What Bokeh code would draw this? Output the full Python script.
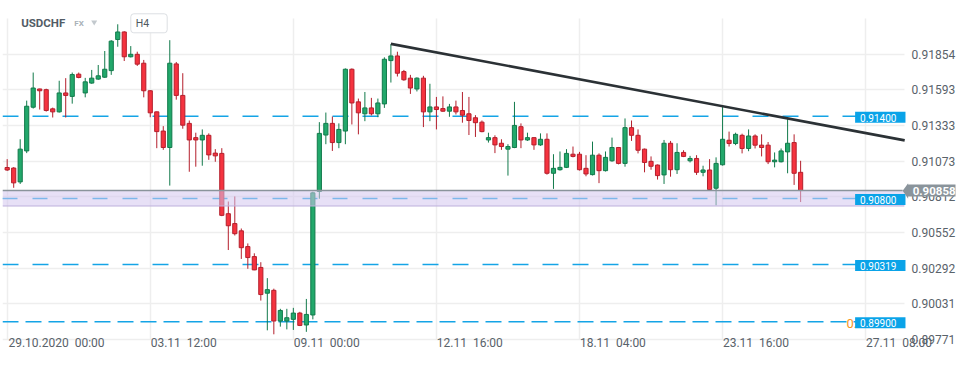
from bokeh.plotting import figure
from bokeh.models import (ColumnDataSource, Range1d, FixedTicker, PrintfTickFormatter,
                          CustomJSTickFormatter, Label, PolyAnnotation)
from bokeh.embed import file_html
from bokeh.resources import INLINE

# ---------------- data ----------------
symbol = "USDCHF"
market = "FX"
timeframe = "H4"

opens = [0.91026, 0.91022, 0.90921, 0.91147, 0.91466, 0.91599, 0.91594, 0.91454, 0.91432, 0.91570,
         0.91545, 0.91707, 0.91570, 0.91642, 0.91671, 0.91685, 0.91733, 0.91960, 0.92015, 0.91834,
         0.91852, 0.91787, 0.91586, 0.91432, 0.91292, 0.91172, 0.91782, 0.91552, 0.91348, 0.91244,
         0.91227, 0.91261, 0.91131, 0.91129, 0.90689, 0.90617, 0.90564, 0.90449, 0.90376, 0.90297,
         0.90109, 0.90130, 0.89906, 0.89906, 0.89918, 0.89964, 0.89877, 0.89950, 0.90851, 0.91263,
         0.91348, 0.91208, 0.91292, 0.91743, 0.91505, 0.91418, 0.91461, 0.91418, 0.91490, 0.91806,
         0.91840, 0.91726, 0.91678, 0.91599, 0.91678, 0.91432, 0.91468, 0.91456, 0.91437, 0.91468,
         0.91442, 0.91418, 0.91389, 0.91357, 0.91227, 0.91244, 0.91203, 0.91160, 0.91172, 0.91324,
         0.91227, 0.91244, 0.91191, 0.91232, 0.90984, 0.91010, 0.91027, 0.91123, 0.91123, 0.91020,
         0.90974, 0.91116, 0.91003, 0.91075, 0.91172, 0.91056, 0.91317, 0.91261, 0.91160, 0.91071,
         0.91044, 0.90972, 0.91203, 0.91010, 0.91136, 0.91075, 0.91092, 0.90991, 0.91008, 0.90875,
         0.91046, 0.91225, 0.91201, 0.91261, 0.91165, 0.91256, 0.91189, 0.91189, 0.91068, 0.91068,
         0.91140, 0.91208, 0.90991]
highs = [0.91087, 0.91029, 0.91232, 0.91514, 0.91719, 0.91601, 0.91601, 0.91463, 0.91659, 0.91678,
         0.91719, 0.91719, 0.91680, 0.91738, 0.91774, 0.91876, 0.91955, 0.92071, 0.92020, 0.91912,
         0.91871, 0.91811, 0.91590, 0.91434, 0.91328, 0.91955, 0.91796, 0.91714, 0.91369, 0.91280,
         0.91304, 0.91275, 0.91160, 0.91167, 0.90778, 0.90815, 0.90581, 0.90472, 0.90400, 0.90335,
         0.90219, 0.90142, 0.89995, 0.89995, 0.90002, 0.89973, 0.90067, 0.90849, 0.91357, 0.91427,
         0.91398, 0.91348, 0.91749, 0.91749, 0.91529, 0.91577, 0.91534, 0.91529, 0.91830, 0.91926,
         0.91871, 0.91738, 0.91702, 0.91684, 0.91695, 0.91637, 0.91541, 0.91545, 0.91490, 0.91514,
         0.91577, 0.91541, 0.91408, 0.91369, 0.91280, 0.91261, 0.91232, 0.91196, 0.91505, 0.91348,
         0.91280, 0.91246, 0.91275, 0.91275, 0.91123, 0.91143, 0.91160, 0.91179, 0.91140, 0.91116,
         0.91215, 0.91129, 0.91143, 0.91244, 0.91176, 0.91384, 0.91369, 0.91304, 0.91164, 0.91107,
         0.91048, 0.91227, 0.91220, 0.91203, 0.91152, 0.91111, 0.91116, 0.91039, 0.91087, 0.91100,
         0.91468, 0.91288, 0.91280, 0.91273, 0.91304, 0.91268, 0.91268, 0.91212, 0.91136, 0.91165,
         0.91391, 0.91268, 0.91075]
lows = [0.91001, 0.90878, 0.90906, 0.91131, 0.91456, 0.91449, 0.91434, 0.91391, 0.91427, 0.91391,
        0.91492, 0.91677, 0.91538, 0.91637, 0.91666, 0.91680, 0.91702, 0.91907, 0.91803, 0.91829,
        0.91767, 0.91538, 0.91393, 0.91167, 0.91155, 0.90894, 0.91521, 0.91309, 0.90995, 0.91032,
        0.91039, 0.91082, 0.91068, 0.90671, 0.90424, 0.90530, 0.90359, 0.90287, 0.90277, 0.90055,
        0.89838, 0.89809, 0.89865, 0.89845, 0.89841, 0.89869, 0.89827, 0.89918, 0.90798, 0.91196,
        0.91147, 0.91167, 0.91196, 0.91340, 0.91268, 0.91364, 0.91406, 0.91393, 0.91461, 0.91646,
        0.91690, 0.91659, 0.91563, 0.91581, 0.91321, 0.91364, 0.91304, 0.91432, 0.91396, 0.91413,
        0.91353, 0.91263, 0.91249, 0.91283, 0.91208, 0.91131, 0.91155, 0.90967, 0.91167, 0.91167,
        0.91220, 0.91155, 0.91184, 0.90974, 0.90870, 0.91003, 0.91022, 0.91100, 0.91004, 0.90962,
        0.90968, 0.90912, 0.90997, 0.91068, 0.91049, 0.91032, 0.91220, 0.91129, 0.90991, 0.91010,
        0.90938, 0.90906, 0.90959, 0.90979, 0.91102, 0.91063, 0.90972, 0.90962, 0.90859, 0.90750,
        0.91040, 0.91179, 0.91189, 0.91129, 0.91145, 0.91165, 0.91107, 0.91051, 0.91027, 0.91063,
        0.90984, 0.90899, 0.90774]
closes = [0.91008, 0.90914, 0.91160, 0.91473, 0.91606, 0.91586, 0.91442, 0.91432, 0.91570, 0.91552,
          0.91704, 0.91683, 0.91651, 0.91678, 0.91695, 0.91743, 0.91948, 0.92015, 0.91834, 0.91852,
          0.91780, 0.91586, 0.91425, 0.91288, 0.91172, 0.91787, 0.91552, 0.91335, 0.91227, 0.91227,
          0.91261, 0.91118, 0.91111, 0.90677, 0.90601, 0.90543, 0.90441, 0.90369, 0.90279, 0.90099,
          0.90135, 0.89906, 0.89983, 0.89930, 0.89964, 0.89874, 0.89954, 0.90841, 0.91275, 0.91348,
          0.91208, 0.91304, 0.91743, 0.91497, 0.91425, 0.91461, 0.91418, 0.91497, 0.91816, 0.91840,
          0.91714, 0.91666, 0.91606, 0.91678, 0.91432, 0.91468, 0.91449, 0.91437, 0.91468, 0.91432,
          0.91408, 0.91369, 0.91353, 0.91288, 0.91244, 0.91191, 0.91179, 0.91179, 0.91333, 0.91227,
          0.91244, 0.91191, 0.91232, 0.90984, 0.91020, 0.91027, 0.91129, 0.91107, 0.91010, 0.90979,
          0.91116, 0.91003, 0.91100, 0.91172, 0.91056, 0.91317, 0.91261, 0.91152, 0.91063, 0.91035,
          0.90967, 0.91203, 0.91010, 0.91136, 0.91107, 0.91092, 0.90991, 0.91008, 0.90865, 0.91056,
          0.91232, 0.91201, 0.91268, 0.91165, 0.91256, 0.91189, 0.91172, 0.91068, 0.91080, 0.91147,
          0.91203, 0.90984, 0.90858]

date_tick_bars = [0, 22, 44, 66, 88, 110, 132]
date_tick_labels = ["29.10.2020\u00a0\u00a000:00", "03.11\u00a0\u00a012:00", "09.11\u00a0\u00a000:00",
                    "12.11\u00a0\u00a016:00", "18.11\u00a0\u00a004:00", "23.11\u00a0\u00a016:00",
                    "27.11\u00a0\u00a008:00"]
price_ticks = [0.89771, 0.90031, 0.90292, 0.90552, 0.90812, 0.91073, 0.91333, 0.91593, 0.91854]
price_area_top = 0.92114
level_prices = [0.91400, 0.90800, 0.90319, 0.89900]
level_dashes = ["16 14", "15 15", "16 14", "16 7"]
current_price = 0.90858
zone_low = 0.90745
trend_bars = [59, 138]
trend_prices = [0.91928, 0.91224]
pending_order_price = 0.89900

# ---------------- layout (pixels of the 958 x 352 canvas) ----------------
W, H = 958, 352
FRAME_LEFT, FRAME_BOTTOM = 2, 344          # frame spans x 2..958, y 0..344
BAR0_PX, BAR_PX = 6.7, 6.524               # x pixel of bar 0, pixels per bar
PRICE_PX = (price_ticks[-1] - price_ticks[0]) / 288.0   # price per pixel
PRICE_AT_54 = price_ticks[-1]              # the 0.91854 line sits at y = 54


def bx(px):
    """canvas x pixel -> bar coordinate"""
    return (px - BAR0_PX) / BAR_PX


def py(px):
    """canvas y pixel -> price coordinate"""
    return PRICE_AT_54 - (px - 54) * PRICE_PX


PLOT_RIGHT = bx(906.7)        # right end of the price area (grid, levels)
FONT = "Roboto"
GREEN, GREEN_EDGE = "#22a86b", "#127a4b"
RED, RED_EDGE = "#f5333f", "#b41f2c"
LEVEL_BLUE = "#14a4e6"
TAG_BLUE = "#0aa3e8"
PRICE_GREY = "#8a949b"

p = figure(width=W, height=H, output_backend="svg", toolbar_location=None,
           x_range=Range1d(bx(FRAME_LEFT), bx(W)), y_range=Range1d(py(FRAME_BOTTOM), py(0)),
           y_axis_location="right", min_border_left=FRAME_LEFT, min_border_right=0,
           min_border_top=0, min_border_bottom=H - FRAME_BOTTOM,
           background_fill_color="white", border_fill_color="white")
p.outline_line_color = None

# grid, limited to the price area
p.xgrid.ticker = FixedTicker(ticks=date_tick_bars)
p.xgrid.cross_bounds = (price_ticks[0], price_area_top)
p.ygrid.cross_bounds = (bx(FRAME_LEFT), PLOT_RIGHT)
p.grid.grid_line_color = "#eeeeee"
p.grid.grid_line_width = 1.5

# x axis: labels start at their grid line
half_w = [49.5] + [33.5] * (len(date_tick_bars) - 1)
label_pos = [b + hw / BAR_PX for b, hw in zip(date_tick_bars, half_w)]
p.xaxis.ticker = FixedTicker(ticks=label_pos)
p.xaxis.formatter = CustomJSTickFormatter(args=dict(pos=label_pos, labels=date_tick_labels), code="""
    let best = ''; let bd = 1e9;
    for (let k = 0; k < pos.length; k++) {
        const d = Math.abs(pos[k] - tick);
        if (d < bd) { bd = d; best = labels[k]; }
    }
    return best;
""")
p.yaxis.ticker = FixedTicker(ticks=price_ticks)
p.yaxis.formatter = PrintfTickFormatter(format="%.5f")
for ax in (p.xaxis, p.yaxis):
    ax.axis_line_color = None
    ax.major_tick_line_color = None
    ax.minor_tick_line_color = None
    ax.major_tick_out = 0
    ax.major_tick_in = 0
    ax.major_label_text_font = FONT
    ax.major_label_text_font_size = "12px"
    ax.major_label_text_color = "#59626a"
p.xaxis.major_label_standoff = -6
p.yaxis.major_label_standoff = -44   # labels sit at x ~ 914, right of the price area

x_left = bx(FRAME_LEFT)

# horizontal levels (under the candles)
for lv, dash in zip(level_prices, level_dashes):
    p.line([x_left, PLOT_RIGHT], [lv, lv], line_color=LEVEL_BLUE, line_width=1.5, line_dash=dash)

# candles
bars = list(range(len(opens)))
up = [c >= o for o, c in zip(opens, closes)]
src = ColumnDataSource(dict(
    x=bars, high=highs, low=lows,
    top=[max(o, c) for o, c in zip(opens, closes)],
    bottom=[min(o, c) for o, c in zip(opens, closes)],
    fill=[GREEN if u else RED for u in up],
    edge=[GREEN_EDGE if u else RED_EDGE for u in up],
))
p.segment(x0="x", y0="high", x1="x", y1="low", source=src, line_color="edge", line_width=1)
p.vbar(x="x", width=0.64, top="top", bottom="bottom", source=src,
       fill_color="fill", line_color="edge", line_width=1)

# trend line
p.line(trend_bars, trend_prices, line_color="#2b3135", line_width=2.6)

# zone band, its lower edge, and the current price line on top
p.quad(left=[x_left], right=[PLOT_RIGHT], bottom=[zone_low], top=[current_price],
       fill_color="#d3c6ee", fill_alpha=0.55, line_color=None)
p.line([x_left, PLOT_RIGHT], [zone_low, zone_low], line_color="#bdb0dc", line_width=1.2)
p.line([x_left, bx(905)], [current_price, current_price], line_color=PRICE_GREY, line_width=1.6)

# partly hidden orange pending-order tag
p.add_layout(Label(x=bx(848.7), y=pending_order_price, y_offset=-2,
                   text=f"{pending_order_price:.5f}", text_font=FONT, text_font_size="13px",
                   text_color="#f7941d", text_baseline="middle", text_align="left"))

# level tags (anchor = left edge of the tag box)
for lv in level_prices:
    p.add_layout(Label(x=bx(857.3), y=lv, y_offset=-1, text=f"{lv:.5f}",
                       text_font=FONT, text_font_size="10px", text_color="white",
                       text_baseline="middle", text_align="left",
                       background_fill_color=TAG_BLUE,
                       padding=dict(left=5, right=9, top=2, bottom=1)))

# current price tag with its arrow
p.add_layout(PolyAnnotation(xs=[bx(910.5), bx(905), bx(910.5)], ys=[py(184.3), py(192), py(200)],
                            fill_color=PRICE_GREY, fill_alpha=1.0, line_color=None))
p.add_layout(Label(x=bx(910), y=current_price, text=f"{current_price:.5f}",
                   text_font=FONT, text_font_size="11.5px", text_font_style="bold", text_color="white",
                   text_baseline="middle", text_align="left", background_fill_color=PRICE_GREY,
                   padding=dict(left=5, right=4, top=2, bottom=2)))

# header
p.add_layout(Label(x=bx(20.7), y=py(23), text=symbol, text_font=FONT, text_font_size="11.5px",
                   text_font_style="bold", text_color="#525c66", text_baseline="middle",
                   text_align="left"))
p.add_layout(Label(x=bx(74), y=py(23), text=market, text_font=FONT, text_font_size="8px",
                   text_font_style="bold", text_color="#a9b1b8", text_baseline="middle",
                   text_align="left"))
p.add_layout(Label(x=bx(130.7), y=py(23), text=timeframe, text_font=FONT, text_font_size="10.5px",
                   text_color="#4f5961", text_baseline="middle", text_align="left",
                   border_line_color="#dcdfe3", border_line_width=1, border_radius=3,
                   background_fill_color="white",
                   padding=dict(left=5, right=18, top=3, bottom=3)))
p.scatter([bx(94), bx(157.7)], [py(21.8), py(21.8)], marker="inverted_triangle", size=6,
          fill_color="#c3c9ce", line_color=None)

open("out.html", "w").write(file_html(p, INLINE))
